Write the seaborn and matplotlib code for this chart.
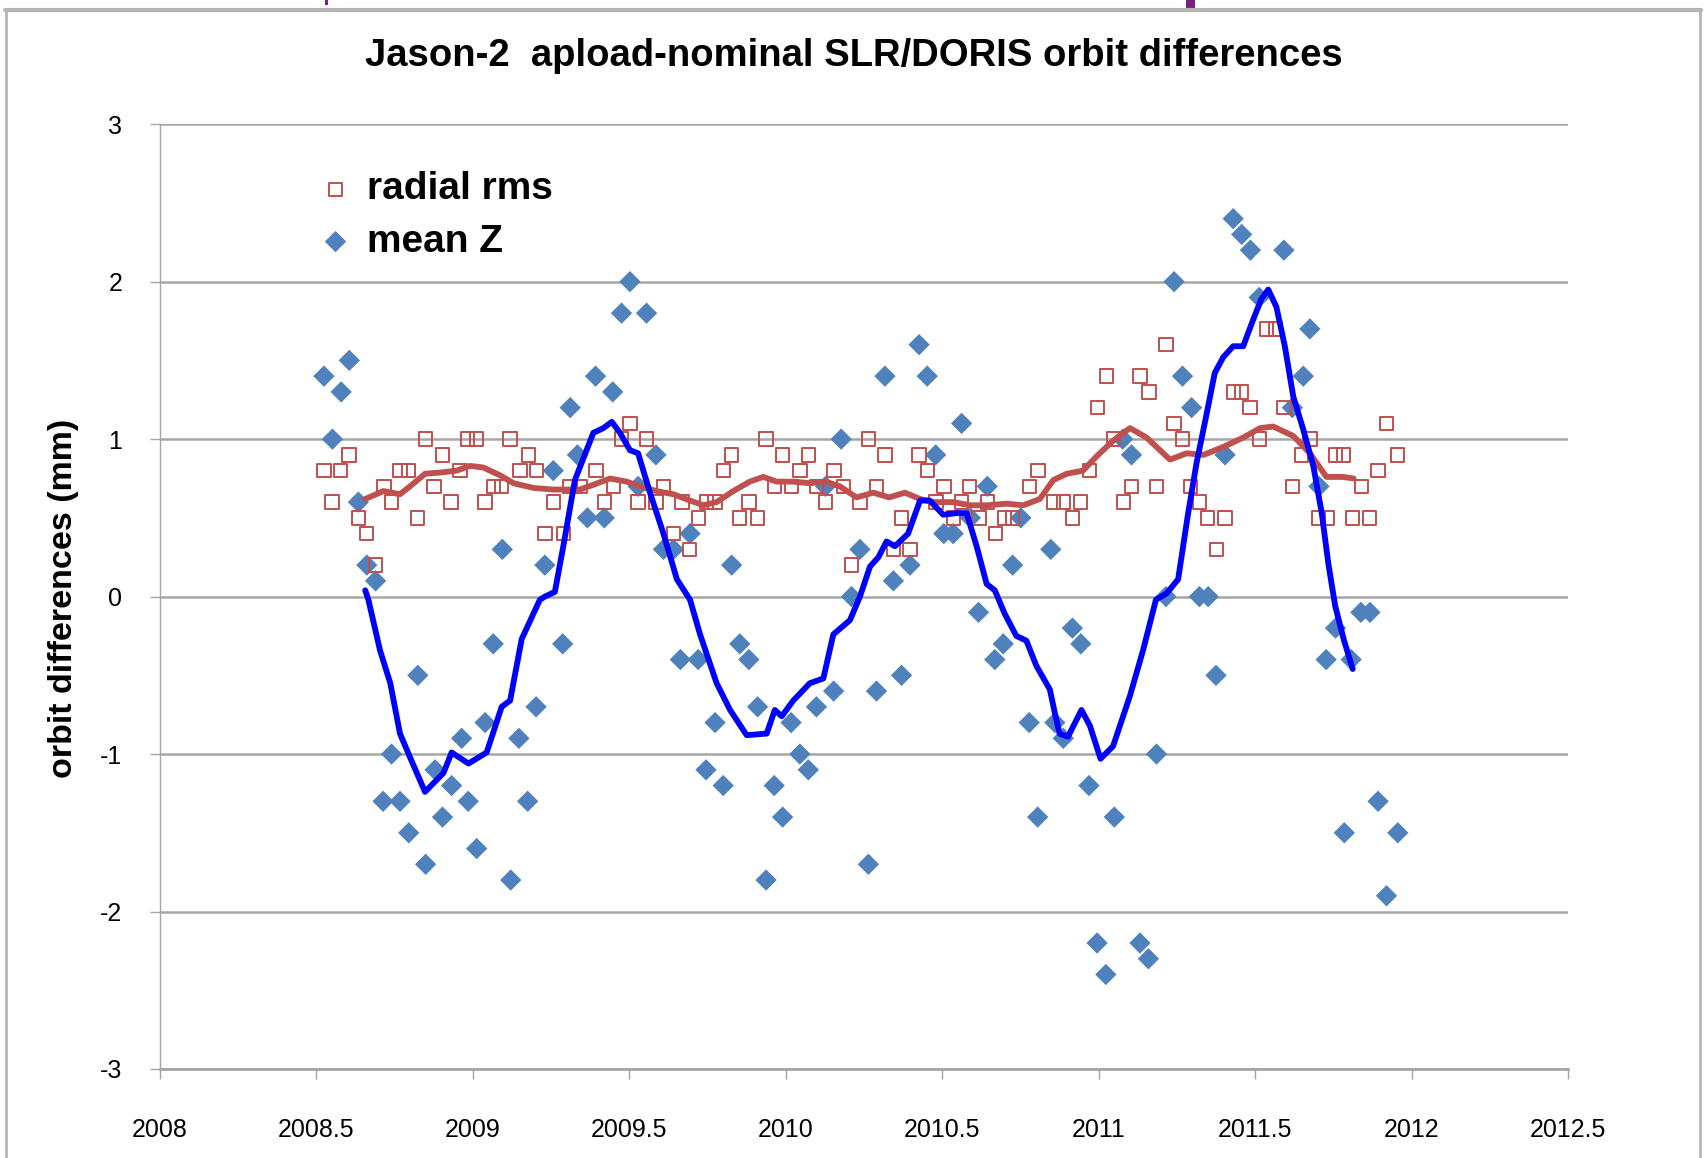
import numpy as np
import pandas as pd
import matplotlib
matplotlib.use("Agg")
import matplotlib.pyplot as plt
import seaborn as sns
from matplotlib.patches import Rectangle
from matplotlib.lines import Line2D

# ---------------- data ----------------
rms_year = [2008.524, 2008.550, 2008.577, 2008.604, 2008.634, 2008.661, 2008.689, 2008.716, 2008.740, 2008.767,
            2008.794, 2008.822, 2008.849, 2008.876, 2008.903, 2008.930, 2008.959, 2008.983, 2009.012, 2009.039,
            2009.065, 2009.092, 2009.119, 2009.151, 2009.177, 2009.204, 2009.230, 2009.257, 2009.289, 2009.310,
            2009.342, 2009.393, 2009.420, 2009.449, 2009.475, 2009.502, 2009.528, 2009.555, 2009.585, 2009.610,
            2009.641, 2009.668, 2009.692, 2009.720, 2009.747, 2009.774, 2009.800, 2009.827, 2009.853, 2009.882,
            2009.910, 2009.937, 2009.963, 2009.990, 2010.018, 2010.045, 2010.072, 2010.099, 2010.127, 2010.154,
            2010.184, 2010.209, 2010.237, 2010.264, 2010.290, 2010.317, 2010.344, 2010.370, 2010.397, 2010.426,
            2010.452, 2010.480, 2010.506, 2010.535, 2010.562, 2010.588, 2010.618, 2010.645, 2010.671, 2010.698,
            2010.725, 2010.778, 2010.806, 2010.855, 2010.887, 2010.916, 2010.943, 2010.970, 2010.996, 2011.026,
            2011.048, 2011.080, 2011.105, 2011.132, 2011.161, 2011.185, 2011.215, 2011.241, 2011.268, 2011.294,
            2011.322, 2011.348, 2011.377, 2011.404, 2011.430, 2011.457, 2011.484, 2011.513, 2011.537, 2011.566,
            2011.592, 2011.619, 2011.649, 2011.675, 2011.703, 2011.732, 2011.756, 2011.783, 2011.812, 2011.840,
            2011.866, 2011.893, 2011.920, 2011.956]
rms_value = [0.8, 0.6, 0.8, 0.9, 0.5, 0.4, 0.2, 0.7, 0.6, 0.8,
             0.8, 0.5, 1.0, 0.7, 0.9, 0.6, 0.8, 1.0, 1.0, 0.6,
             0.7, 0.7, 1.0, 0.8, 0.9, 0.8, 0.4, 0.6, 0.4, 0.7,
             0.7, 0.8, 0.6, 0.7, 1.0, 1.1, 0.6, 1.0, 0.6, 0.7,
             0.4, 0.6, 0.3, 0.5, 0.6, 0.6, 0.8, 0.9, 0.5, 0.6,
             0.5, 1.0, 0.7, 0.9, 0.7, 0.8, 0.9, 0.7, 0.6, 0.8,
             0.7, 0.2, 0.6, 1.0, 0.7, 0.9, 0.3, 0.5, 0.3, 0.9,
             0.8, 0.6, 0.7, 0.5, 0.6, 0.7, 0.5, 0.6, 0.4, 0.5,
             0.5, 0.7, 0.8, 0.6, 0.6, 0.5, 0.6, 0.8, 1.2, 1.4,
             1.0, 0.6, 0.7, 1.4, 1.3, 0.7, 1.6, 1.1, 1.0, 0.7,
             0.6, 0.5, 0.3, 0.5, 1.3, 1.3, 1.2, 1.0, 1.7, 1.7,
             1.2, 0.7, 0.9, 1.0, 0.5, 0.5, 0.9, 0.9, 0.5, 0.7,
             0.5, 0.8, 1.1, 0.9]

z_year = [2008.524, 2008.551, 2008.579, 2008.605, 2008.634, 2008.661, 2008.689, 2008.713, 2008.740, 2008.767,
          2008.795, 2008.824, 2008.849, 2008.879, 2008.903, 2008.932, 2008.964, 2008.985, 2009.012, 2009.039,
          2009.065, 2009.094, 2009.121, 2009.147, 2009.175, 2009.202, 2009.230, 2009.257, 2009.287, 2009.311,
          2009.334, 2009.366, 2009.392, 2009.420, 2009.447, 2009.475, 2009.502, 2009.528, 2009.555, 2009.585,
          2009.609, 2009.641, 2009.663, 2009.694, 2009.720, 2009.745, 2009.774, 2009.800, 2009.827, 2009.853,
          2009.882, 2009.910, 2009.937, 2009.963, 2009.990, 2010.017, 2010.045, 2010.072, 2010.098, 2010.127,
          2010.153, 2010.177, 2010.210, 2010.237, 2010.264, 2010.290, 2010.317, 2010.344, 2010.370, 2010.397,
          2010.426, 2010.452, 2010.479, 2010.505, 2010.535, 2010.562, 2010.590, 2010.616, 2010.644, 2010.668,
          2010.695, 2010.725, 2010.751, 2010.778, 2010.805, 2010.847, 2010.860, 2010.887, 2010.916, 2010.943,
          2010.969, 2010.995, 2011.023, 2011.050, 2011.077, 2011.105, 2011.132, 2011.159, 2011.185, 2011.215,
          2011.241, 2011.268, 2011.297, 2011.322, 2011.350, 2011.375, 2011.404, 2011.430, 2011.457, 2011.485,
          2011.513, 2011.592, 2011.619, 2011.654, 2011.675, 2011.704, 2011.727, 2011.757, 2011.785, 2011.807,
          2011.838, 2011.867, 2011.893, 2011.920, 2011.956]
z_value = [1.4, 1.0, 1.3, 1.5, 0.6, 0.2, 0.1, -1.3, -1.0, -1.3,
           -1.5, -0.5, -1.7, -1.1, -1.4, -1.2, -0.9, -1.3, -1.6, -0.8,
           -0.3, 0.3, -1.8, -0.9, -1.3, -0.7, 0.2, 0.8, -0.3, 1.2,
           0.9, 0.5, 1.4, 0.5, 1.3, 1.8, 2.0, 0.7, 1.8, 0.9,
           0.3, 0.3, -0.4, 0.4, -0.4, -1.1, -0.8, -1.2, 0.2, -0.3,
           -0.4, -0.7, -1.8, -1.2, -1.4, -0.8, -1.0, -1.1, -0.7, 0.7,
           -0.6, 1.0, 0.0, 0.3, -1.7, -0.6, 1.4, 0.1, -0.5, 0.2,
           1.6, 1.4, 0.9, 0.4, 0.4, 1.1, 0.5, -0.1, 0.7, -0.4,
           -0.3, 0.2, 0.5, -0.8, -1.4, 0.3, -0.8, -0.9, -0.2, -0.3,
           -1.2, -2.2, -2.4, -1.4, 1.0, 0.9, -2.2, -2.3, -1.0, 0.0,
           2.0, 1.4, 1.2, 0.0, 0.0, -0.5, 0.9, 2.4, 2.3, 2.2,
           1.9, 2.2, 1.2, 1.4, 1.7, 0.7, -0.4, -0.2, -1.5, -0.4,
           -0.1, -0.1, -1.3, -1.9, -1.5]

rms_smooth_year = [2008.656, 2008.714, 2008.767, 2008.799, 2008.847, 2008.906, 2008.948, 2008.991, 2009.033, 2009.087,
                   2009.130, 2009.194, 2009.257, 2009.300, 2009.342, 2009.385, 2009.438, 2009.492, 2009.534, 2009.587,
                   2009.641, 2009.694, 2009.736, 2009.779, 2009.832, 2009.885, 2009.928, 2009.971, 2010.024, 2010.077,
                   2010.128, 2010.173, 2010.226, 2010.280, 2010.330, 2010.381, 2010.429, 2010.471, 2010.535, 2010.589,
                   2010.642, 2010.706, 2010.759, 2010.812, 2010.855, 2010.898, 2010.950, 2010.993, 2011.046, 2011.100,
                   2011.153, 2011.228, 2011.281, 2011.335, 2011.398, 2011.462, 2011.516, 2011.558, 2011.622, 2011.675,
                   2011.728, 2011.781, 2011.815]
rms_smooth_value = [0.62, 0.67, 0.65, 0.70, 0.78, 0.79, 0.80, 0.83, 0.82, 0.77,
                    0.72, 0.69, 0.68, 0.68, 0.68, 0.71, 0.75, 0.73, 0.70, 0.67,
                    0.65, 0.61, 0.58, 0.60, 0.67, 0.73, 0.76, 0.73, 0.73, 0.72,
                    0.73, 0.70, 0.63, 0.66, 0.63, 0.66, 0.62, 0.60, 0.60, 0.58,
                    0.58, 0.59, 0.58, 0.62, 0.74, 0.78, 0.80, 0.89, 0.99, 1.07,
                    1.01, 0.87, 0.91, 0.90, 0.95, 1.01, 1.07, 1.08, 1.02, 0.91,
                    0.76, 0.76, 0.75]

z_smooth_year = [2008.656, 2008.666, 2008.703, 2008.736, 2008.767, 2008.799, 2008.847, 2008.906, 2008.932, 2008.986,
                 2009.044, 2009.092, 2009.119, 2009.156, 2009.214, 2009.230, 2009.262, 2009.289, 2009.326, 2009.385,
                 2009.417, 2009.444, 2009.470, 2009.502, 2009.528, 2009.566, 2009.609, 2009.652, 2009.694, 2009.726,
                 2009.779, 2009.822, 2009.875, 2009.939, 2009.965, 2009.987, 2010.024, 2010.077, 2010.120, 2010.152,
                 2010.205, 2010.237, 2010.269, 2010.296, 2010.322, 2010.349, 2010.391, 2010.429, 2010.460, 2010.503,
                 2010.546, 2010.578, 2010.610, 2010.642, 2010.668, 2010.700, 2010.737, 2010.769, 2010.801, 2010.844,
                 2010.860, 2010.875, 2010.902, 2010.945, 2010.972, 2011.006, 2011.046, 2011.100, 2011.142, 2011.183,
                 2011.217, 2011.254, 2011.286, 2011.313, 2011.345, 2011.371, 2011.398, 2011.430, 2011.462, 2011.494,
                 2011.520, 2011.542, 2011.568, 2011.595, 2011.622, 2011.654, 2011.686, 2011.713, 2011.734, 2011.756,
                 2011.783, 2011.812]
z_smooth_value = [0.04, -0.02, -0.34, -0.55, -0.87, -1.02, -1.24, -1.12, -0.99, -1.06,
                  -0.99, -0.70, -0.66, -0.27, -0.02, 0.00, 0.03, 0.32, 0.74, 1.04,
                  1.07, 1.11, 1.04, 0.93, 0.91, 0.66, 0.40, 0.11, -0.02, -0.24,
                  -0.55, -0.72, -0.88, -0.87, -0.72, -0.76, -0.66, -0.55, -0.52, -0.24,
                  -0.15, 0.00, 0.19, 0.25, 0.35, 0.32, 0.40, 0.61, 0.61, 0.52,
                  0.53, 0.53, 0.32, 0.08, 0.04, -0.11, -0.25, -0.28, -0.44, -0.59,
                  -0.74, -0.87, -0.89, -0.72, -0.82, -1.03, -0.95, -0.63, -0.34, -0.02,
                  0.02, 0.11, 0.53, 0.85, 1.16, 1.42, 1.52, 1.59, 1.59, 1.76,
                  1.89, 1.95, 1.84, 1.59, 1.27, 1.06, 0.83, 0.53, 0.21, -0.06,
                  -0.27, -0.46]

x_ticks = [2008, 2008.5, 2009, 2009.5, 2010, 2010.5, 2011, 2011.5, 2012, 2012.5]
x_tick_labels = ["2008", "2008.5", "2009", "2009.5", "2010", "2010.5", "2011", "2011.5", "2012", "2012.5"]
y_ticks = [-3, -2, -1, 0, 1, 2, 3]
y_tick_labels = ["-3", "-2", "-1", "0", "1", "2", "3"]

title_text = "Jason-2  apload-nominal SLR/DORIS orbit differences"
y_label_text = "orbit differences (mm)"
rms_label = "radial rms"
z_label = "mean Z"

# ---------------- styling ----------------
sns.set_theme(style="white")
plt.rcParams["font.family"] = ["Liberation Sans", "DejaVu Sans"]
plt.rcParams["text.color"] = "black"
FONT = ["Liberation Sans", "DejaVu Sans"]

RED = "#C0504D"
BLUE_PT = "#4F81BD"
BLUE_LN = "#0000FF"
GRID = "#A6A6A6"

W, H = 1706, 1158
fig = plt.figure(figsize=(W / 100, H / 100), dpi=100)
ax = fig.add_axes([160 / W, 1 - 1069 / H, 1408 / W, 944.8 / H])

df_rms = pd.DataFrame({"year": rms_year, "value": rms_value})
df_z = pd.DataFrame({"year": z_year, "value": z_value})
df_rms_s = pd.DataFrame({"year": rms_smooth_year, "value": rms_smooth_value})
df_z_s = pd.DataFrame({"year": z_smooth_year, "value": z_smooth_value})

sns.scatterplot(data=df_rms, x="year", y="value", ax=ax, marker="s", s=92,
                facecolor="none", edgecolor=RED, linewidth=1.4, label=rms_label, zorder=4)
sns.scatterplot(data=df_z, x="year", y="value", ax=ax, marker="D", s=118,
                color=BLUE_PT, edgecolor="none", linewidth=0, label=z_label, zorder=3)
sns.lineplot(data=df_rms_s, x="year", y="value", ax=ax, color=RED, linewidth=4.2,
             estimator=None, sort=False, legend=False, zorder=5)
sns.lineplot(data=df_z_s, x="year", y="value", ax=ax, color=BLUE_LN, linewidth=4.2,
             estimator=None, sort=False, legend=False, zorder=6)
for ln in ax.lines:
    ln.set_solid_joinstyle("round")
    ln.set_solid_capstyle("round")

ax.set_xlim(2008, 2012.5)
ax.set_ylim(-3, 3)
ax.set_xticks(x_ticks)
ax.set_xticklabels(x_tick_labels, family=FONT, fontsize=18, color="black")
ax.set_yticks(y_ticks)
ax.set_yticklabels(y_tick_labels, family=FONT, fontsize=18, color="black")
ax.set_xlabel("")
ax.set_ylabel("")

ax.set_axisbelow(True)
ax.yaxis.grid(True, color=GRID, linewidth=1.8)
ax.xaxis.grid(False)
for s in ["top", "right"]:
    ax.spines[s].set_visible(False)
ax.spines["left"].set_color(GRID)
ax.spines["left"].set_linewidth(1.0)
ax.spines["bottom"].set_color(GRID)
ax.spines["bottom"].set_linewidth(2.0)
ax.tick_params(axis="x", bottom=True, direction="out", length=7, width=1, color=GRID, pad=28, labelcolor="black")
ax.tick_params(axis="y", left=True, direction="out", length=7, width=1, color=GRID, pad=20, labelcolor="black")

leg = ax.legend(loc="upper left", bbox_to_anchor=(0.1136, 0.950), frameon=False, borderpad=0,
                borderaxespad=0, handlelength=0.8, handletextpad=0.40, labelspacing=0.42,
                prop={"family": "Liberation Sans", "weight": "bold", "size": 28})
for t in leg.get_texts():
    t.set_color("black")

fig.text(854 / W, 1 - 56 / H, title_text, ha="center", va="center", fontsize=27.5,
         fontweight="bold", family=FONT, color="black")
fig.text(64 / W, 1 - 598 / H, y_label_text, ha="center", va="center", rotation=90,
         fontsize=24.5, fontweight="bold", family=FONT, color="black")

# frame of the pasted slide graphic
BORDER = "#B4B4B4"
fig.add_artist(Line2D([5 / W, 1701 / W], [1 - 10 / H, 1 - 10 / H], transform=fig.transFigure, color=BORDER, lw=3.0))
fig.add_artist(Line2D([6 / W, 6 / W], [0, 1 - 10 / H], transform=fig.transFigure, color=BORDER, lw=2.0))
fig.add_artist(Line2D([1700 / W, 1700 / W], [0, 1 - 10 / H], transform=fig.transFigure, color=BORDER, lw=2.0))
# cut-off purple fragments above the frame
fig.add_artist(Rectangle((1186 / W, 1 - 8 / H), 9 / W, 8 / H, transform=fig.transFigure, color="#7B1F7F", lw=0))
fig.add_artist(Rectangle((325 / W, 1 - 5 / H), 3 / W, 5 / H, transform=fig.transFigure, color="#7B1F7F", lw=0))

fig.savefig("out.png", dpi=100, facecolor="white")
